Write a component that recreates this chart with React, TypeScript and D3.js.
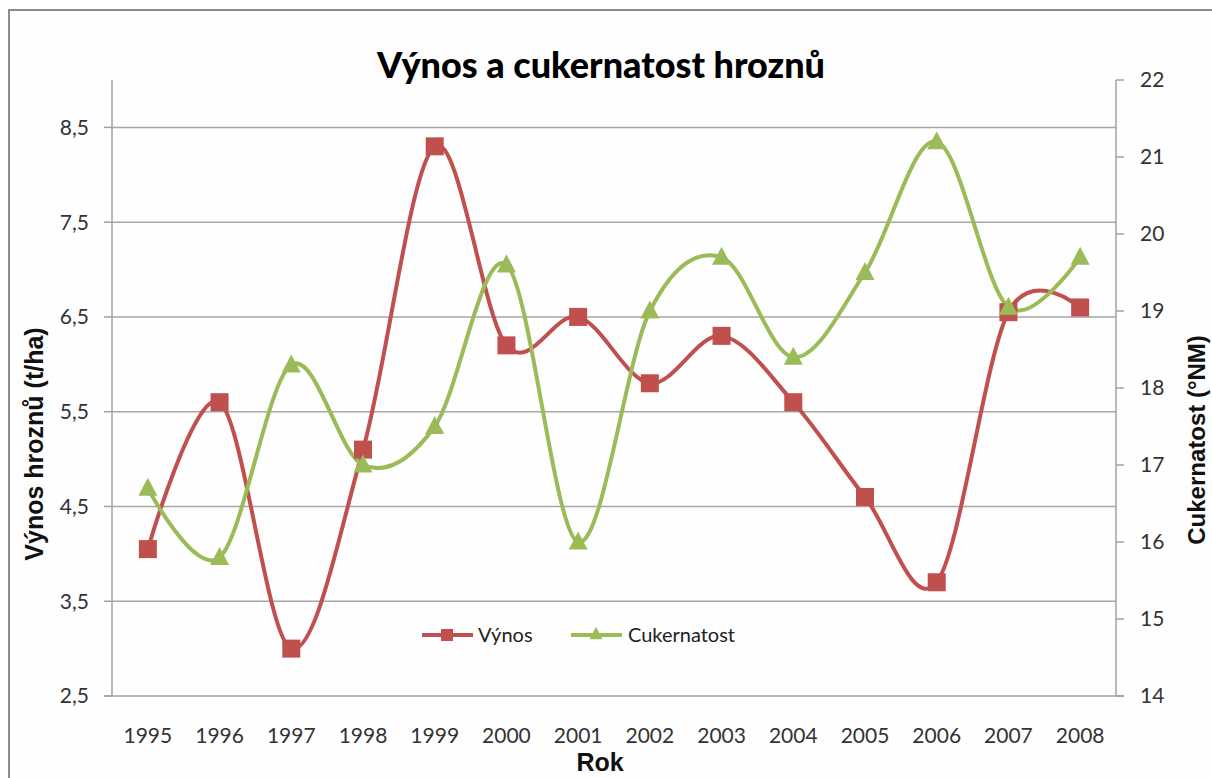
import React from "react";
import * as d3 from "d3";

// data
const years = ["1995", "1996", "1997", "1998", "1999", "2000", "2001", "2002", "2003", "2004", "2005", "2006", "2007", "2008"];
const vynos = [4.05, 5.6, 3.0, 5.1, 8.3, 6.2, 6.5, 5.8, 6.3, 5.6, 4.6, 3.7, 6.55, 6.6];
const cukernatost = [16.7, 15.8, 18.3, 17.0, 17.5, 19.6, 16.0, 19.0, 19.7, 18.4, 19.5, 21.2, 19.05, 19.7];
const leftTicks = [2.5, 3.5, 4.5, 5.5, 6.5, 7.5, 8.5];
const rightTicks = [14, 15, 16, 17, 18, 19, 20, 21, 22];

const W = 1212;
const H = 778;
const plot = { left: 112, right: 1116, top: 80, bottom: 696 };

const RED = "#C0504D";
const GREEN = "#9BBB59";
const tickFont = "Lato, 'Open Sans', sans-serif";
const titleFont = "'Liberation Sans', Arial, sans-serif";

const fmt = (v: number) => d3.format(".1f")(v).replace(".", ",");

export default function App() {
  const x = d3.scaleBand().domain(years).range([plot.left, plot.right]);
  const cx = (y: string) => (x(y) as number) + x.bandwidth() / 2;
  const yL = d3.scaleLinear().domain([2.5, 9]).range([plot.bottom, plot.top]);
  const yR = d3.scaleLinear().domain([14, 22]).range([plot.bottom, plot.top]);

  const lineL = d3.line<number>()
    .x((_, i) => cx(years[i]))
    .y((d) => yL(d))
    .curve(d3.curveCatmullRom.alpha(0));
  const lineR = d3.line<number>()
    .x((_, i) => cx(years[i]))
    .y((d) => yR(d))
    .curve(d3.curveCatmullRom.alpha(0));

  const tri = (px: number, py: number, s: number) =>
    `M${px},${py - s * 0.55}L${px + s / 2},${py + s * 0.4}L${px - s / 2},${py + s * 0.4}Z`;

  return (
    <svg width={W} height={H} style={{ position: "absolute", left: 0, top: 0, display: "block", background: "#fff" }}>
      <rect x={9} y={10} width={W + 20} height={H + 20} fill="#fefefe" stroke="#8c8c8c" strokeWidth={2} />

      {/* gridlines */}
      {leftTicks.slice(1).map((t) => (
        <line key={t} x1={plot.left} x2={plot.right} y1={yL(t)} y2={yL(t)} stroke="#a6a6a6" strokeWidth={1.5} />
      ))}

      {/* axes */}
      <line x1={plot.left} x2={plot.left} y1={plot.top} y2={plot.bottom} stroke="#a0a0a0" strokeWidth={1.5} />
      <line x1={plot.right} x2={plot.right} y1={plot.top} y2={plot.bottom} stroke="#a0a0a0" strokeWidth={1.5} />
      <line x1={plot.left - 8} x2={plot.right + 8} y1={plot.bottom} y2={plot.bottom} stroke="#a0a0a0" strokeWidth={1.5} />

      {leftTicks.map((t) => (
        <g key={t}>
          <line x1={plot.left - 8} x2={plot.left} y1={yL(t)} y2={yL(t)} stroke="#a0a0a0" strokeWidth={1.5} />
          <text x={89} y={yL(t)} dy="0.35em" textAnchor="end" fontFamily={tickFont} fontSize={21} fill="#333">
            {fmt(t)}
          </text>
        </g>
      ))}
      {rightTicks.map((t) => (
        <g key={t}>
          <line x1={plot.right} x2={plot.right + 8} y1={yR(t)} y2={yR(t)} stroke="#a0a0a0" strokeWidth={1.5} />
          <text x={1140} y={yR(t)} dy="0.35em" textAnchor="start" fontFamily={tickFont} fontSize={21} fill="#333">
            {t}
          </text>
        </g>
      ))}
      {years.map((y) => (
        <text key={y} x={cx(y)} y={743} textAnchor="middle" fontFamily={tickFont} fontSize={21} fill="#333">
          {y}
        </text>
      ))}

      {/* series */}
      <path d={lineL(vynos) ?? ""} fill="none" stroke={RED} strokeWidth={4} />
      <path d={lineR(cukernatost) ?? ""} fill="none" stroke={GREEN} strokeWidth={4} />
      {vynos.map((v, i) => (
        <rect key={i} x={cx(years[i]) - 9} y={yL(v) - 9} width={18} height={18} fill={RED} />
      ))}
      {cukernatost.map((v, i) => (
        <path key={i} d={tri(cx(years[i]), yR(v), 19)} fill={GREEN} />
      ))}

      {/* legend */}
      <line x1={422} x2={473} y1={635} y2={635} stroke={RED} strokeWidth={4} />
      <rect x={441} y={629} width={12} height={12} fill={RED} />
      <text x={478} y={635} dy="0.35em" fontFamily={tickFont} fontSize={20} fill="#222">Výnos</text>
      <line x1={571} x2={622} y1={635} y2={635} stroke={GREEN} strokeWidth={4} />
      <path d={tri(596, 634, 13)} fill={GREEN} />
      <text x={628} y={635} dy="0.35em" fontFamily={tickFont} fontSize={20} fill="#222">Cukernatost</text>

      {/* titles */}
      <text x={601} y={78} textAnchor="middle" fontFamily="Lato, sans-serif" fontWeight={900} fontSize={36} fill="#000">
        Výnos a cukernatost hroznů
      </text>
      <text transform="translate(43,444) rotate(-90)" textAnchor="middle" fontFamily={titleFont} fontWeight={700} fontSize={25} fill="#111">
        Výnos hroznů (t/ha)
      </text>
      <text transform="translate(1205,440) rotate(-90)" textAnchor="middle" fontFamily={titleFont} fontWeight={700} fontSize={24} fill="#111">
        Cukernatost (°NM)
      </text>
      <text x={600} y={771} textAnchor="middle" fontFamily={titleFont} fontWeight={700} fontSize={25} fill="#111">
        Rok
      </text>
    </svg>
  );
}
